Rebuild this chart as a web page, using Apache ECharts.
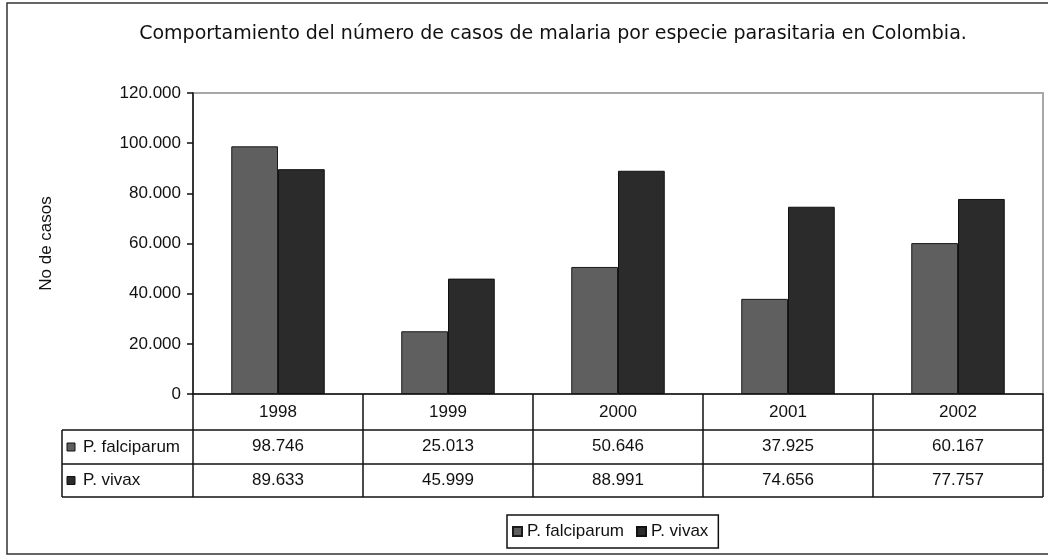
<!DOCTYPE html>
<html>
<head>
<meta charset="utf-8">
<script src="https://cdn.jsdelivr.net/npm/echarts@6/dist/echarts.min.js"></script>
<style>
  html, body { margin: 0; padding: 0; background: #fff; }
  #chart { width: 1048px; height: 556px; }
</style>
</head>
<body>
<div id="chart"></div>
<script>
const years = ['1998', '1999', '2000', '2001', '2002'];
const falciparum = [98746, 25013, 50646, 37925, 60167];
const vivax = [89633, 45999, 88991, 74656, 77757];
const seriesNames = ['P. falciparum', 'P. vivax'];
const colors = ['#5f5f5f', '#2b2b2b'];

const FONT = 'Liberation Sans';
const FS = 17;
const gridLeft = 193, gridRight = 1043, gridTop = 93, gridBottom = 394;
const rowLines = [430, 464, 497];
const labelColLeft = 62;

// miles con punto: 98746 -> 98.746
function fmt(v) {
    return String(v).replace(/\B(?=(\d{3})+(?!\d))/g, '.');
}

const chart = echarts.init(document.getElementById('chart'));

// lineas de la tabla de datos
const tableLines = [];
rowLines.forEach(function (y) {
    tableLines.push({
        type: 'line',
        shape: { x1: labelColLeft, y1: y, x2: gridRight, y2: y },
        style: { stroke: '#111', lineWidth: 1.5 }
    });
});
tableLines.push({
    type: 'line',
    shape: { x1: labelColLeft, y1: rowLines[0], x2: labelColLeft, y2: rowLines[2] },
    style: { stroke: '#111', lineWidth: 1.5 }
});
// etiquetas de fila con su cuadrito
seriesNames.forEach(function (name, i) {
    const yc = (rowLines[i] + rowLines[i + 1]) / 2;
    tableLines.push({
        type: 'rect',
        shape: { x: 67, y: yc - 4, width: 8, height: 8 },
        style: { fill: colors[i], stroke: '#111', lineWidth: 1 }
    });
    tableLines.push({
        type: 'text',
        x: 83, y: yc,
        style: { text: name, font: FS + 'px "' + FONT + '"', fill: '#111', verticalAlign: 'middle' }
    });
});

const option = {
    animation: false,
    backgroundColor: '#fff',
    textStyle: { fontFamily: FONT },
    title: {
        text: 'Comportamiento del número de casos de malaria por especie parasitaria en Colombia.',
        left: 548,
        textAlign: 'center',
        top: 20,
        textStyle: { fontSize: 19, fontWeight: 'normal', color: '#111', fontFamily: 'DejaVu Sans' }
    },
    legend: {
        data: seriesNames,
        left: 507,
        top: 515,
        orient: 'horizontal',
        icon: 'rect',
        itemWidth: 9,
        itemHeight: 9,
        itemGap: 12,
        padding: [8, 10, 8, 5],
        borderColor: '#111',
        borderWidth: 1.5,
        borderRadius: 0,
        textStyle: { fontSize: FS, color: '#111' }
    },
    grid: {
        left: gridLeft,
        right: 1048 - gridRight,
        top: gridTop,
        bottom: 556 - gridBottom,
        show: true,
        borderColor: '#a8a8a8',
        borderWidth: 2,
        containLabel: false
    },
    xAxis: {
        type: 'category',
        data: years,
        axisLine: { lineStyle: { color: '#111', width: 1.5 } },
        axisTick: { show: true, length: rowLines[2] - gridBottom, lineStyle: { color: '#111', width: 1.5 } },
        axisLabel: {
            margin: 1,
            interval: 0,
            formatter: function (val, idx) {
                return '{r|' + val + '}\n{r|' + fmt(falciparum[idx]) + '}\n{r|' + fmt(vivax[idx]) + '}';
            },
            rich: {
                r: { fontSize: FS, color: '#111', lineHeight: 34, fontFamily: FONT }
            }
        },
        splitLine: { show: false }
    },
    yAxis: {
        type: 'value',
        min: 0,
        max: 120000,
        interval: 20000,
        name: 'No de casos',
        nameLocation: 'middle',
        nameRotate: 90,
        nameGap: 138,
        nameTextStyle: { fontSize: FS, color: '#111' },
        axisLine: { show: true, lineStyle: { color: '#111', width: 1.5 } },
        axisTick: { show: true, length: 6, lineStyle: { color: '#111', width: 1.5 } },
        axisLabel: { fontSize: FS, color: '#111', margin: 12, formatter: fmt },
        splitLine: { show: false }
    },
    series: [
        {
            name: seriesNames[0],
            type: 'bar',
            data: falciparum,
            barGap: '0%',
            barCategoryGap: '45%',
            itemStyle: { color: colors[0], borderColor: '#1a1a1a', borderWidth: 1 }
        },
        {
            name: seriesNames[1],
            type: 'bar',
            data: vivax,
            barGap: '0%',
            barCategoryGap: '45%',
            itemStyle: { color: colors[1], borderColor: '#111', borderWidth: 1 }
        }
    ],
    graphic: [
        {
            type: 'rect',
            shape: { x: 7, y: 3, width: 1060, height: 551 },
            style: { fill: null, stroke: '#333', lineWidth: 1.5 },
            z: 100
        }
    ].concat(tableLines)
};

chart.setOption(option);
</script>
</body>
</html>
